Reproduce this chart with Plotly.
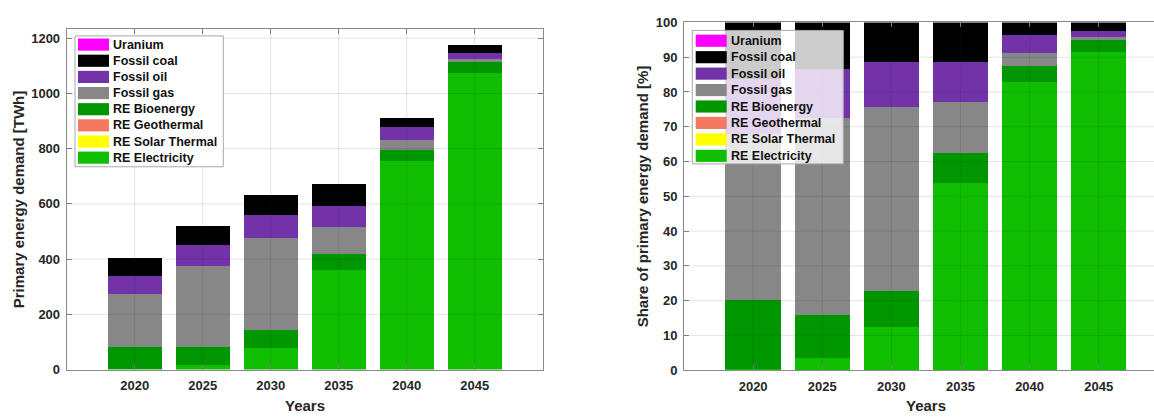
import plotly.graph_objects as go

# ---- data -------------------------------------------------------------
years = [2020, 2025, 2030, 2035, 2040, 2045]

# primary energy demand by source [TWh], stacked bottom -> top
re_electricity = [1, 17, 77, 361, 755, 1075]
re_solar_thermal = [0, 0, 0, 0, 0, 0]
re_geothermal = [0, 0, 0, 0, 0, 0]
re_bioenergy = [81, 65, 66, 58, 40, 38]
fossil_gas = [193, 295, 335, 98, 35, 13]
fossil_oil = [65, 73, 81, 76, 48, 20]
fossil_coal = [66, 71, 73, 78, 33, 29]
uranium = [0, 0, 0, 0, 0, 0]

series_names = ["RE Electricity", "RE Solar Thermal", "RE Geothermal", "RE Bioenergy",
                "Fossil gas", "Fossil oil", "Fossil coal", "Uranium"]
series_values = [re_electricity, re_solar_thermal, re_geothermal, re_bioenergy,
                 fossil_gas, fossil_oil, fossil_coal, uranium]
series_colors = ["#10BE00", "#FFFF00", "#F4795F", "#009600",
                 "#878787", "#7232A8", "#000000", "#FF00FF"]

left_yticks = [0, 200, 400, 600, 800, 1000, 1200]
right_yticks = [0, 10, 20, 30, 40, 50, 60, 70, 80, 90, 100]

# ---- derived ----------------------------------------------------------
totals = [sum(col) for col in zip(*series_values)]
shares = [[v / t * 100 for v, t in zip(vals, totals)] for vals in series_values]
left_ymax = max(totals) * 1.05

W, H = 1154, 419
FONT = "Liberation Sans, Arial, sans-serif"
TXT = "#262626"
AXC = "#8a8a8a"


def fx(p):
    return p / W


def fy(p):
    return 1 - p / H


fig = go.Figure()

for name, vals, shr, col in zip(series_names, series_values, shares, series_colors):
    fig.add_trace(go.Bar(x=years, y=vals, name=name, marker=dict(color=col, line=dict(width=0)),
                         width=4, showlegend=False, xaxis="x", yaxis="y"))
    fig.add_trace(go.Bar(x=years, y=shr, name=name, marker=dict(color=col, line=dict(width=0)),
                         width=4, showlegend=False, xaxis="x2", yaxis="y2"))

x_left = [2015, 2050]
x_right = [2015, 2049]

axis_common = dict(
    ticks="inside", ticklen=5, tickcolor=AXC, showline=True, linecolor=AXC, linewidth=1,
    showgrid=False, zeroline=False, fixedrange=True,
    tickfont=dict(family=FONT, size=13, color=TXT, weight="bold"),
)

fig.update_layout(
    width=W, height=H, margin=dict(l=0, r=0, t=0, b=0),
    paper_bgcolor="white", plot_bgcolor="white",
    barmode="stack", bargap=0,
    showlegend=False,
    xaxis=dict(domain=[fx(66.7), fx(542.7)], range=x_left, tickvals=years, anchor="y",
               mirror="ticks", ticklabelstandoff=4, **axis_common),
    yaxis=dict(domain=[fy(376), fy(22.7)], range=[0, left_ymax], tickvals=left_yticks,
               anchor="x", mirror="ticks", ticklabelstandoff=3, **axis_common),
    xaxis2=dict(domain=[fx(684), 1.0], range=x_right, tickvals=years, anchor="y2",
                mirror="ticks", ticklabelstandoff=4, **axis_common),
    yaxis2=dict(domain=[fy(376.7), fy(16)], range=[0, 100], tickvals=right_yticks,
                anchor="x2", mirror=False, ticklabelstandoff=3, **axis_common),
)

shapes = []
GRID = dict(color="rgba(38,38,38,0.13)", width=1)
# grid lines drawn over the bars
for v in left_yticks[1:]:
    shapes.append(dict(type="line", xref="x", yref="y", x0=x_left[0], x1=x_left[1],
                       y0=v, y1=v, line=GRID, layer="above"))
for yr in years:
    shapes.append(dict(type="line", xref="x", yref="y", x0=yr, x1=yr, y0=0, y1=left_ymax,
                       line=GRID, layer="above"))
for v in right_yticks[1:-1]:
    shapes.append(dict(type="line", xref="x2", yref="y2", x0=x_right[0], x1=x_right[1],
                       y0=v, y1=v, line=GRID, layer="above"))
for yr in years:
    shapes.append(dict(type="line", xref="x2", yref="y2", x0=yr, x1=yr, y0=0, y1=100,
                       line=GRID, layer="above"))

annotations = []


def add_legend(left, top, right, bottom, fill, sw_x0, sw_x1, text_x, first_c, step):
    shapes.append(dict(type="rect", xref="paper", yref="paper",
                       x0=fx(left), x1=fx(right), y0=fy(bottom), y1=fy(top),
                       fillcolor=fill, line=dict(color="#a8a8a8", width=1), layer="above"))
    for i, (name, col) in enumerate(zip(series_names[::-1], series_colors[::-1])):
        c = first_c + i * step
        shapes.append(dict(type="rect", xref="paper", yref="paper",
                           x0=fx(sw_x0), x1=fx(sw_x1), y0=fy(c + 6.3), y1=fy(c - 6.3),
                           fillcolor=col, line=dict(width=0), layer="above"))
        annotations.append(dict(xref="paper", yref="paper", x=fx(text_x), y=fy(c),
                                xanchor="left", yanchor="middle", showarrow=False, text=name,
                                font=dict(family=FONT, size=12.5, color="#111111", weight="bold")))


add_legend(75, 30, 223.3, 165.7, "white", 78, 109, 111, 39, 16.75)
add_legend(692.3, 24.3, 843.3, 162.7, "rgba(255,255,255,0.8)", 695.7, 726.7, 729, 35, 17.05)

TITLE_FONT = dict(family=FONT, size=15, color=TXT, weight="bold")
annotations += [
    dict(xref="paper", yref="paper", x=fx(18), y=fy(199.4), text="Primary energy demand [TWh]",
         textangle=-90, showarrow=False, xanchor="center", yanchor="middle", font=TITLE_FONT),
    dict(xref="paper", yref="paper", x=fx(642), y=fy(196.4), text="Share of primary energy demand [%]",
         textangle=-90, showarrow=False, xanchor="center", yanchor="middle", font=TITLE_FONT),
    dict(xref="paper", yref="paper", x=fx(304.7), y=fy(402), text="Years",
         showarrow=False, xanchor="center", yanchor="top", font=TITLE_FONT),
    dict(xref="paper", yref="paper", x=fx(926), y=fy(402), text="Years",
         showarrow=False, xanchor="center", yanchor="top", font=TITLE_FONT),
]

fig.update_layout(shapes=shapes, annotations=annotations)
fig.write_html("out.html")
